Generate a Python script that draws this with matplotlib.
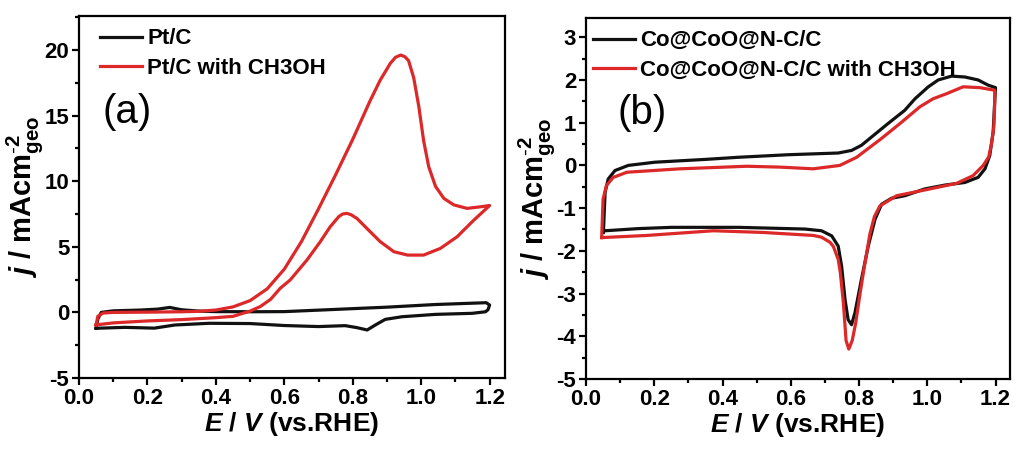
import matplotlib
matplotlib.use("Agg")
import matplotlib.pyplot as plt
from matplotlib.ticker import MultipleLocator, FormatStrFormatter

plt.rcParams['font.family'] = ['Liberation Sans', 'DejaVu Sans']
plt.rcParams['mathtext.fontset'] = 'custom'
plt.rcParams['mathtext.rm'] = 'Liberation Sans'
plt.rcParams['mathtext.bf'] = 'Liberation Sans:bold'
plt.rcParams['mathtext.it'] = 'Liberation Sans:italic'
plt.rcParams['mathtext.bfit'] = 'Liberation Sans:italic:bold'
plt.rcParams['axes.unicode_minus'] = False

# ---------------- Panel (a): Pt/C ----------------
pt_fwd_E = [0.05, 0.055, 0.065, 0.10, 0.18, 0.23, 0.265, 0.30, 0.35, 0.40, 0.50, 0.60, 0.75, 0.90, 1.04, 1.19, 1.20]
pt_fwd_j = [-1.20, -0.50, 0.00, 0.12, 0.18, 0.25, 0.38, 0.20, 0.10, 0.06, 0.05, 0.06, 0.23, 0.40, 0.60, 0.74, 0.56]
pt_rev_E = [1.20, 1.195, 1.188, 1.149, 1.042, 0.944, 0.895, 0.866, 0.842, 0.812, 0.778, 0.70, 0.60, 0.50, 0.38, 0.28, 0.22, 0.135, 0.05]
pt_rev_j = [0.56, 0.20, 0.05, -0.07, -0.15, -0.33, -0.53, -0.96, -1.34, -1.16, -1.01, -1.08, -1.00, -0.85, -0.83, -0.96, -1.20, -1.14, -1.21]

ptm_fwd_E = [0.05, 0.055, 0.07, 0.10, 0.20, 0.30, 0.35, 0.40, 0.45, 0.50, 0.55, 0.60, 0.65, 0.70, 0.75, 0.80,
             0.85, 0.88, 0.91, 0.925, 0.94, 0.952, 0.963, 0.978, 0.993, 1.007, 1.022, 1.042, 1.066, 1.095, 1.134, 1.173, 1.20]
ptm_fwd_j = [-0.95, -0.30, -0.05, 0.00, 0.02, 0.05, 0.08, 0.18, 0.42, 0.90, 1.80, 3.30, 5.40, 7.90, 10.5, 13.2,
             16.1, 17.7, 19.0, 19.45, 19.62, 19.5, 19.2, 17.9, 15.7, 13.1, 11.1, 9.6, 8.7, 8.2, 7.93, 8.05, 8.15]
ptm_rev_E = [1.20, 1.154, 1.105, 1.056, 1.007, 0.96, 0.92, 0.88, 0.846, 0.812, 0.795, 0.783, 0.77, 0.759, 0.734, 0.705,
             0.666, 0.617, 0.588, 0.56, 0.53, 0.50, 0.45, 0.40, 0.30, 0.20, 0.10, 0.05]
ptm_rev_j = [8.15, 7.04, 5.77, 4.88, 4.37, 4.37, 4.63, 5.40, 6.28, 7.17, 7.45, 7.55, 7.50, 7.30, 6.53, 5.39,
             3.99, 2.47, 1.84, 1.00, 0.45, 0.10, -0.30, -0.40, -0.55, -0.65, -0.80, -0.95]

# ---------------- Panel (b): Co@CoO@N-C/C ----------------
co_fwd_E = [0.051, 0.056, 0.065, 0.085, 0.124, 0.202, 0.349, 0.446, 0.593, 0.739, 0.778, 0.807, 0.836, 0.885,
            0.934, 0.964, 1.003, 1.032, 1.071, 1.11, 1.149, 1.178, 1.20]
co_fwd_j = [-1.57, -0.63, -0.32, -0.12, 0.00, 0.075, 0.14, 0.19, 0.25, 0.29, 0.35, 0.47, 0.66, 0.98,
            1.29, 1.56, 1.84, 2.00, 2.09, 2.07, 2.00, 1.88, 1.82]
co_rev_E = [1.20, 1.198, 1.193, 1.183, 1.169, 1.149, 1.11, 1.052, 0.993, 0.934, 0.895, 0.866, 0.847, 0.827,
            0.807, 0.788, 0.778, 0.768, 0.759, 0.749, 0.739, 0.72, 0.69, 0.641, 0.446, 0.251, 0.153, 0.056]
co_rev_j = [1.82, 1.56, 0.78, 0.23, -0.08, -0.28, -0.40, -0.46, -0.55, -0.71, -0.77, -0.91, -1.26, -1.89,
            -2.67, -3.45, -3.73, -3.61, -3.14, -2.36, -1.89, -1.65, -1.53, -1.49, -1.45, -1.45, -1.48, -1.53]

com_fwd_E = [0.046, 0.05, 0.06, 0.08, 0.12, 0.275, 0.471, 0.568, 0.666, 0.744, 0.793, 0.836, 0.861, 0.92,
             0.978, 1.017, 1.057, 1.105, 1.154, 1.198]
com_fwd_j = [-1.69, -0.79, -0.47, -0.28, -0.16, -0.08, -0.02, -0.04, -0.08, 0.00, 0.19, 0.45, 0.60, 0.98,
             1.37, 1.56, 1.68, 1.84, 1.82, 1.76]
com_rev_E = [1.198, 1.197, 1.195, 1.188, 1.18, 1.164, 1.134, 1.086, 1.008, 0.91, 0.861, 0.845, 0.832, 0.815,
             0.803, 0.79, 0.78, 0.77, 0.762, 0.754, 0.745, 0.739, 0.725, 0.715, 0.69, 0.666, 0.519, 0.373, 0.178, 0.046]
com_rev_j = [1.76, 1.30, 0.90, 0.50, 0.20, 0.00, -0.24, -0.42, -0.55, -0.71, -0.95, -1.20, -1.60, -2.40,
             -3.00, -3.70, -4.10, -4.30, -4.10, -3.20, -2.50, -2.20, -1.90, -1.80, -1.68, -1.64, -1.57, -1.53, -1.64, -1.69]

labels_a = ["Pt/C", "Pt/C with CH3OH"]
labels_b = ["Co@CoO@N-C/C", "Co@CoO@N-C/C with CH3OH"]
colors = ["#111111", "#dc2828"]

fig = plt.figure(figsize=(10.17, 4.53), dpi=100)
axa = fig.add_axes([0.0777, 0.1656, 0.4189, 0.7991])
axb = fig.add_axes([0.5762, 0.1634, 0.4168, 0.7968])

lw = 2.3

def loop(E1, j1, E2, j2):
    return list(E1) + list(E2), list(j1) + list(j2)

Ea, ja = loop(pt_fwd_E, pt_fwd_j, pt_rev_E, pt_rev_j)
Eam, jam = loop(ptm_fwd_E, ptm_fwd_j, ptm_rev_E, ptm_rev_j)
axa.plot(Ea, ja, color=colors[0], lw=lw, label=labels_a[0], solid_joinstyle='round')
axa.plot(Eam, jam, color=colors[1], lw=lw, label=labels_a[1], solid_joinstyle='round')

Eb, jb = loop(co_fwd_E, co_fwd_j, co_rev_E, co_rev_j)
Ebm, jbm = loop(com_fwd_E, com_fwd_j, com_rev_E, com_rev_j)
axb.plot(Eb, jb, color=colors[0], lw=lw, label=labels_b[0], solid_joinstyle='round')
axb.plot(Ebm, jbm, color=colors[1], lw=lw, label=labels_b[1], solid_joinstyle='round')

axa.set_xlim(0.0, 1.245)
axa.set_ylim(-5, 22.6)
axb.set_xlim(0.0, 1.242)
axb.set_ylim(-5, 3.45)

axa.yaxis.set_major_locator(MultipleLocator(5))
axa.yaxis.set_minor_locator(MultipleLocator(2.5))
axb.yaxis.set_major_locator(MultipleLocator(1))
axb.yaxis.set_minor_locator(MultipleLocator(0.5))

for ax, anchor in ((axa, (0.049, 0.966)), (axb, (0.0165, 0.966))):
    ax.xaxis.set_major_locator(MultipleLocator(0.2))
    ax.xaxis.set_minor_locator(MultipleLocator(0.1))
    ax.xaxis.set_major_formatter(FormatStrFormatter('%.1f'))
    ax.yaxis.set_major_formatter(FormatStrFormatter('%g'))
    for s in ax.spines.values():
        s.set_linewidth(1.6)
    ax.tick_params(which='both', direction='out', top=False, right=False, width=1.6)
    ax.tick_params(which='major', length=5, labelsize=16, pad=2)
    ax.tick_params(which='minor', length=3)
    for t in ax.get_xticklabels() + ax.get_yticklabels():
        t.set_fontweight('bold')
    ax.set_xlabel(r"$\bfit{E}$" + r"$\bf{\ /\ }$" + r"$\bfit{V}$" + " (vs.RHE)", fontsize=19,
                  fontweight='bold', labelpad=1)
    ax.set_ylabel(r"$\bfit{j}$" + r"$\bf{\ /\ mAcm^{\text{-}2}_{geo}}$", fontsize=21, fontweight='bold', labelpad=0)
    ax.legend(loc='upper left', bbox_to_anchor=anchor, frameon=False,
              prop={'weight': 'bold', 'size': 16}, handlelength=1.9, handletextpad=0.23,
              labelspacing=0.37, borderaxespad=0.0, borderpad=0.0)

axa.text(0.113, 0.734, "(a)", transform=axa.transAxes, fontsize=29, ha='center', va='center')
axb.text(0.132, 0.737, "(b)", transform=axb.transAxes, fontsize=29, ha='center', va='center')

fig.savefig("out.png", dpi=100)
